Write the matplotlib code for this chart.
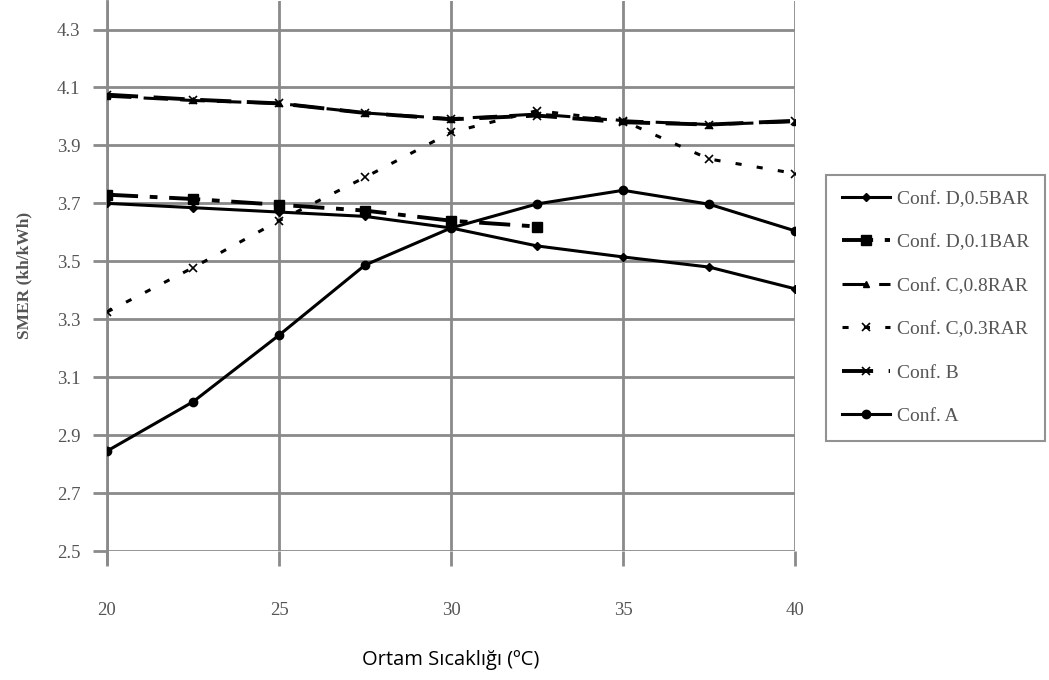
import matplotlib
matplotlib.use("Agg")
import matplotlib.pyplot as plt
import numpy as np

temps = [20, 22.5, 25, 27.5, 30, 32.5, 35, 37.5, 40]

conf_d05 = [3.70, 3.685, 3.67, 3.655, 3.615, 3.553, 3.515, 3.48, 3.405]
conf_d01 = [3.73, 3.715, 3.695, 3.675, 3.64, 3.62]
conf_c08 = [4.07, 4.055, 4.045, 4.012, 3.992, 4.008, 3.985, 3.972, 3.982]
conf_c03 = [3.325, 3.478, 3.64, 3.79, 3.945, 4.02, 3.985, 3.853, 3.803]
conf_b = [4.075, 4.058, 4.045, 4.012, 3.99, 4.003, 3.98, 3.972, 3.985]
conf_a = [2.845, 3.015, 3.245, 3.487, 3.615, 3.698, 3.745, 3.697, 3.605]

labels = ["Conf. D,0.5BAR", "Conf. D,0.1BAR", "Conf. C,0.8RAR",
          "Conf. C,0.3RAR", "Conf. B", "Conf. A"]

yticks = [2.5, 2.7, 2.9, 3.1, 3.3, 3.5, 3.7, 3.9, 4.1, 4.3]
xticks = [20, 25, 30, 35, 40]

fig = plt.figure(figsize=(10.49, 6.8), dpi=100)
ax = fig.add_axes([0.102, 0.1897, 0.656, 0.8095])

grid_c = "#8a8a8a"
for yt in yticks:
    ax.axhline(yt, color=grid_c, lw=2, zorder=1)
for xt in xticks:
    ax.axvline(xt, color=grid_c, lw=2, zorder=1)

k = "black"
ax.plot(temps, conf_d05, color=k, lw=2.2, marker="D", ms=4, label=labels[0], zorder=3)
ax.plot(temps[:len(conf_d01)], conf_d01, color=k, lw=2.8, marker="s", ms=7,
        dashes=(8, 3, 2, 3), label=labels[1], zorder=3)
ax.plot(temps, conf_c08, color=k, lw=2.2, marker="^", ms=5,
        dashes=(8, 4), label=labels[2], zorder=3)
ax.plot(temps, conf_c03, color=k, lw=2.2, marker="x", ms=6, mew=1.2,
        dashes=(2, 5), label=labels[3], zorder=3)
ax.plot(temps, conf_b, color=k, lw=2.8, marker="x", ms=6, mew=1.2,
        dashes=(8, 4), label=labels[4], zorder=3)
ax.plot(temps, conf_a, color=k, lw=2.2, marker="o", ms=6, label=labels[5], zorder=3)

ax.set_xlim(20, 40)
ax.set_ylim(2.5, 4.4)
ax.set_xticks(xticks)
ax.set_yticks(yticks)
ax.set_yticklabels([f"{v:.1f}" for v in yticks])

for s in ["top", "right", "bottom"]:
    ax.spines[s].set_visible(False)
ax.spines["left"].set_color(grid_c)
ax.spines["left"].set_linewidth(2)
ax.spines["left"].set_bounds(2.46, 4.4)

ax.tick_params(axis="x", length=11, width=2, color=grid_c, pad=26,
               labelsize=13.5, labelcolor="#555555")
ax.tick_params(axis="y", length=10, width=2, color=grid_c, pad=9,
               labelsize=13.5, labelcolor="#555555")
for t in ax.get_xticklabels() + ax.get_yticklabels():
    t.set_fontfamily("Liberation Serif")

ax.set_ylabel("SMER (kh/kWh)", family="Liberation Serif", fontweight="bold",
              fontsize=12.5, color="#555555", labelpad=18)
fig.text(0.43, 0.015, "Ortam Sıcaklığı (ºC)", family="Open Sans",
         fontsize=14.5, ha="center", va="bottom", color="black")

leg = ax.legend(loc="center left", bbox_to_anchor=(1.045, 0.442), frameon=True,
                fancybox=False, edgecolor="#777777", handlelength=2.5,
                labelspacing=1.33, borderpad=0.8, handletextpad=0.35,
                borderaxespad=0.0,
                prop={"family": "Liberation Serif", "size": 14})
leg.get_frame().set_linewidth(1.5)
for t in leg.get_texts():
    t.set_color("#555555")

fig.savefig("out.png", dpi=100)
